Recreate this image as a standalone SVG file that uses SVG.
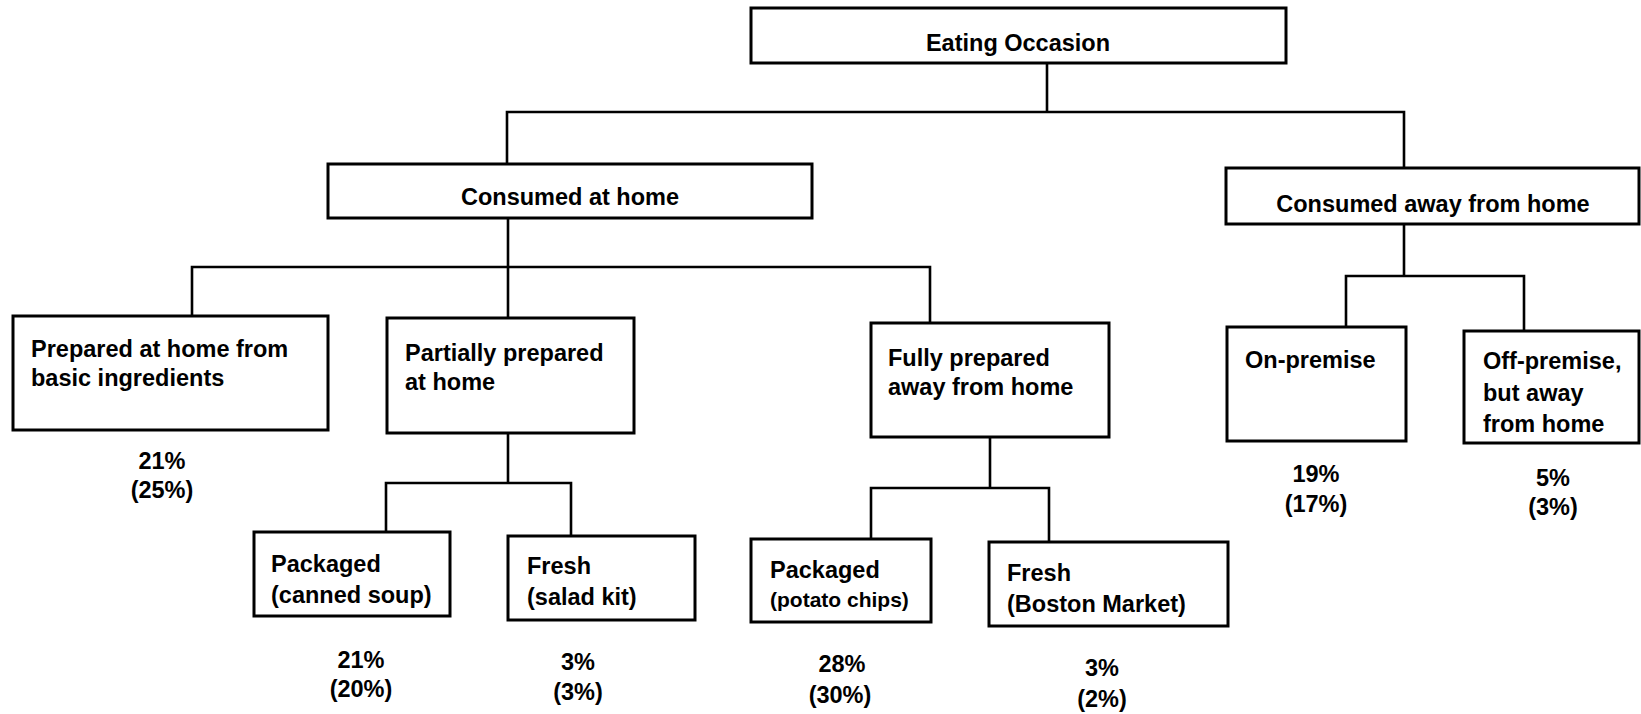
<svg xmlns="http://www.w3.org/2000/svg" width="1641" height="714" viewBox="0 0 1641 714">
<style>
.box{fill:#fff;stroke:#000;stroke-width:3}
.ln{fill:none;stroke:#000;stroke-width:2.6;stroke-linecap:square}
text{font-family:"Liberation Sans",Arial,sans-serif;font-weight:bold;font-size:23.5px;fill:#000}
.c{text-anchor:middle}
.sm{font-size:21px}
</style>
<rect width="1641" height="714" fill="#fff"/>
<g id="connectors">
<path class="ln" d="M1047,63 V112 M507,112 H1404 M507,112 V164 M1404,112 V168"/>
<path class="ln" d="M508,218 V318 M192,267 H930 M192,267 V316 M930,267 V323"/>
<path class="ln" d="M1404,224 V276 M1346,276 H1524 M1346,276 V327 M1524,276 V331"/>
<path class="ln" d="M508,433 V483 M386,483 H571 M386,483 V532 M571,483 V536"/>
<path class="ln" d="M990,437 V488 M871,488 H1049 M871,488 V539 M1049,488 V542"/>
</g>
<g id="eating-occasion">
<rect class="box" x="751" y="8" width="535" height="55"/>
<text class="c" x="1018" y="51">Eating Occasion</text>
</g>
<g id="consumed-at-home">
<rect class="box" x="328" y="164" width="484" height="54"/>
<text class="c" x="570" y="205">Consumed at home</text>
</g>
<g id="consumed-away">
<rect class="box" x="1226" y="168" width="413" height="56"/>
<text class="c" x="1433" y="212">Consumed away from home</text>
</g>
<g id="prepared-basic">
<rect class="box" x="13" y="316" width="315" height="114"/>
<text x="31" y="357">Prepared at home from</text>
<text x="31" y="386">basic ingredients</text>
<text class="c" x="162" y="469">21%</text>
<text class="c" x="162" y="498">(25%)</text>
</g>
<g id="partially-prepared">
<rect class="box" x="387" y="318" width="247" height="115"/>
<text x="405" y="361">Partially prepared</text>
<text x="405" y="390">at home</text>
</g>
<g id="fully-prepared">
<rect class="box" x="871" y="323" width="238" height="114"/>
<text x="888" y="366">Fully prepared</text>
<text x="888" y="395">away from home</text>
</g>
<g id="on-premise">
<rect class="box" x="1227" y="327" width="179" height="114"/>
<text x="1245" y="368">On-premise</text>
<text class="c" x="1316" y="482">19%</text>
<text class="c" x="1316" y="512">(17%)</text>
</g>
<g id="off-premise">
<rect class="box" x="1464" y="331" width="175" height="112"/>
<text x="1483" y="369">Off-premise,</text>
<text x="1483" y="401">but away</text>
<text x="1483" y="432">from home</text>
<text class="c" x="1553" y="486">5%</text>
<text class="c" x="1553" y="515">(3%)</text>
</g>
<g id="packaged-soup">
<rect class="box" x="254" y="532" width="196" height="84"/>
<text x="271" y="572">Packaged</text>
<text x="271" y="603">(canned soup)</text>
<text class="c" x="361" y="668">21%</text>
<text class="c" x="361" y="697">(20%)</text>
</g>
<g id="fresh-salad">
<rect class="box" x="508" y="536" width="187" height="84"/>
<text x="527" y="574">Fresh</text>
<text x="527" y="605">(salad kit)</text>
<text class="c" x="578" y="670">3%</text>
<text class="c" x="578" y="700">(3%)</text>
</g>
<g id="packaged-chips">
<rect class="box" x="751" y="539" width="180" height="83"/>
<text x="770" y="578">Packaged</text>
<text class="sm" x="770" y="607">(potato chips)</text>
<text class="c" x="842" y="672">28%</text>
<text class="c" x="840" y="703">(30%)</text>
</g>
<g id="fresh-boston">
<rect class="box" x="989" y="542" width="239" height="84"/>
<text x="1007" y="581">Fresh</text>
<text x="1007" y="612">(Boston Market)</text>
<text class="c" x="1102" y="676">3%</text>
<text class="c" x="1102" y="707">(2%)</text>
</g>
</svg>
